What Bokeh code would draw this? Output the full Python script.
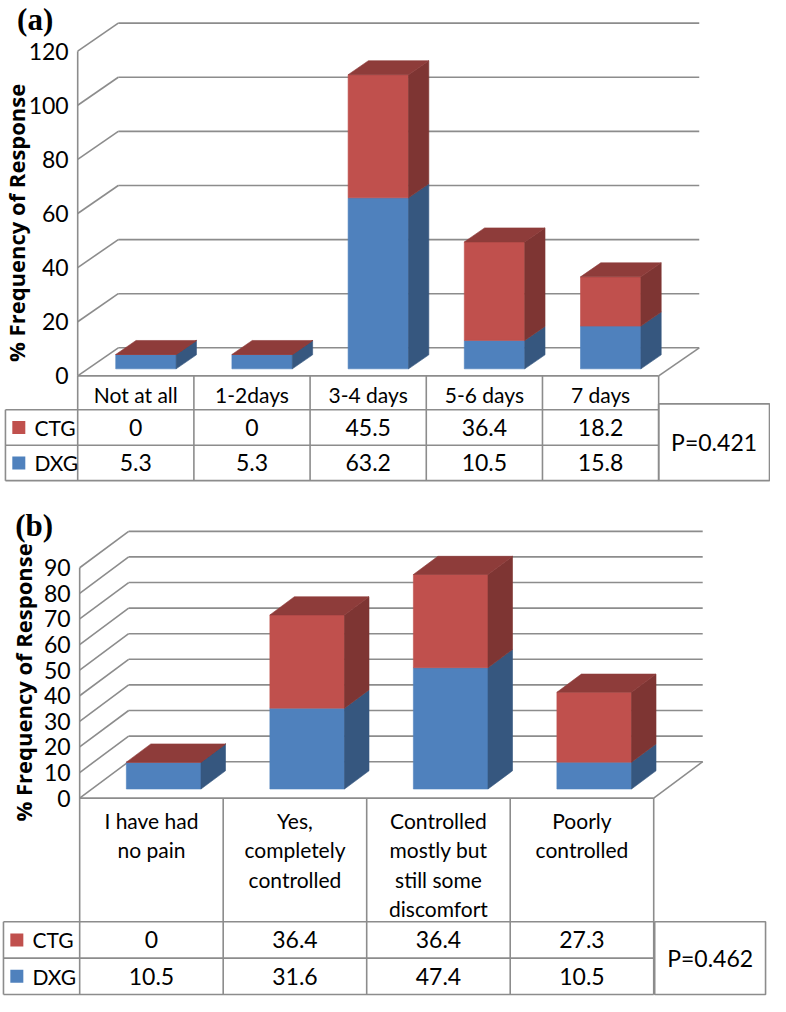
import math
from bokeh.plotting import figure
from bokeh.layouts import column
from bokeh.core.properties import value
from bokeh.embed import file_html
from bokeh.resources import INLINE

# ---------------- data ----------------
series_names = ["CTG", "DXG"]

a_categories = ["Not at all", "1-2days", "3-4 days", "5-6 days", "7 days"]
a_ctg = [0, 0, 45.5, 36.4, 18.2]
a_dxg = [5.3, 5.3, 63.2, 10.5, 15.8]
a_ticks = [0, 20, 40, 60, 80, 100, 120]
a_tick_labels = ["0", "20", "40", "60", "80", "100", "120"]
a_pvalue = "P=0.421"

b_categories = ["I have had\nno pain", "Yes,\ncompletely\ncontrolled",
                "Controlled\nmostly but\nstill some\ndiscomfort", "Poorly\ncontrolled"]
b_ctg = [0, 36.4, 36.4, 27.3]
b_dxg = [10.5, 31.6, 47.4, 10.5]
b_ticks = [0, 10, 20, 30, 40, 50, 60, 70, 80, 90]
b_tick_labels = ["0", "10", "20", "30", "40", "50", "60", "70", "80", "90"]
b_pvalue = "P=0.462"

y_title = "% Frequency of Response"

# ---------------- style ----------------
RED_FRONT = "#C0504D"
RED_SIDE = "#7E3533"
RED_TOP = "#8E3C3A"
BLUE_FRONT = "#4F81BD"
BLUE_SIDE = "#36577F"
GRID = "#8C8C8C"
FONT = "Lato"
FS_WORD = "21px"
FS_NUM = "23px"


def make_panel(cats, ctg, dxg, ticks, tick_labels, pval, letter, cfg, height):
    X0, CW, Y0, KY = cfg["X0"], cfg["CW"], cfg["Y0"], cfg["KY"]
    fx = lambda px: (px - X0) / CW
    fy = lambda py: (Y0 - py) / KY
    N = len(cats)
    ddx = cfg["DX"] / CW
    ddy = cfg["DY"] / KY

    p = figure(width=770, height=height,
               x_range=(fx(8), fx(786)), y_range=(fy(cfg["bot"]), fy(cfg["top"])),
               output_backend="svg", toolbar_location=None,
               x_axis_location=None, y_axis_location=None, min_border=0)
    p.outline_line_color = None
    p.grid.visible = False
    p.background_fill_color = "white"

    nt = len(ticks)
    # back wall gridlines
    p.segment(x0=[ddx] * nt, y0=[t + ddy for t in ticks], x1=[N + ddx] * nt,
              y1=[t + ddy for t in ticks], line_color=GRID, line_width=1.6)
    # side wall diagonals
    p.segment(x0=[0] * nt, y0=ticks, x1=[ddx] * nt, y1=[t + ddy for t in ticks],
              line_color=GRID, line_width=1.6)
    # front axis + floor
    p.segment(x0=[0, 0, N], y0=[0, 0, 0], x1=[0, N, N + ddx], y1=[ticks[-1], 0, ddy],
              line_color=GRID, line_width=1.6)

    # bars
    f0, h, gap = 0.25, 0.5, 0.24
    xl = [i + gap + f0 * ddx for i in range(N)]
    xr = [i + 1 - gap + f0 * ddx for i in range(N)]
    yb = f0 * ddy
    dx2, dy2 = h * ddx, h * ddy

    def side(x, y0, y1):
        return [x, x + dx2, x + dx2, x], [y0, y0 + dy2, y1 + dy2, y1]

    bs = [side(xr[i], yb, yb + dxg[i]) for i in range(N)]
    rs = [side(xr[i], yb + dxg[i], yb + dxg[i] + ctg[i]) for i in range(N)]
    tops = []
    for i in range(N):
        t = yb + dxg[i] + ctg[i]
        tops.append(([xl[i], xr[i], xr[i] + dx2, xl[i] + dx2], [t, t, t + dy2, t + dy2]))

    p.quad(left=xl, right=xr, bottom=[yb] * N, top=[yb + d for d in dxg],
           fill_color=BLUE_FRONT, line_color=BLUE_FRONT, line_width=0.6)
    p.patches(xs=[s[0] for s in bs], ys=[s[1] for s in bs],
              fill_color=BLUE_SIDE, line_color=BLUE_SIDE, line_width=0.6)
    p.quad(left=xl, right=xr, bottom=[yb + d for d in dxg],
           top=[yb + d + c for d, c in zip(dxg, ctg)],
           fill_color=RED_FRONT, line_color=RED_FRONT, line_width=0.6)
    p.patches(xs=[s[0] for s in rs], ys=[s[1] for s in rs],
              fill_color=RED_SIDE, line_color=RED_SIDE, line_width=0.6)
    p.patches(xs=[s[0] for s in tops], ys=[s[1] for s in tops],
              fill_color=RED_TOP, line_color=RED_TOP, line_width=0.6)

    # table
    r0, r1, r2 = [fy(v) for v in cfg["rows"]]
    lx = fx(cfg["leg_left"])
    p.segment(x0=[lx, lx, lx], y0=[r0, r1, r2], x1=[N, N, N], y1=[r0, r1, r2],
              line_color=GRID, line_width=1.6)
    p.segment(x0=[lx] + list(range(N + 1)), y0=[r0] + [0] * (N + 1),
              x1=[lx] + list(range(N + 1)), y1=[r2] * (N + 2),
              line_color=GRID, line_width=1.6)
    pl, pr, pt = fx(cfg["pbox"][0]), fx(cfg["pbox"][1]), fy(cfg["pbox"][2])
    p.quad(left=[pl], right=[pr], top=[pt], bottom=[r2], fill_color=None,
           line_color=GRID, line_width=1.6)

    word = dict(text_font=value(FONT), text_font_size=value(FS_WORD), text_color="black")
    num = dict(text_font=value(FONT), text_font_size=value(FS_NUM), text_color="black")
    # header labels
    hx, hy, ht = [], [], []
    for i, c in enumerate(cats):
        for k, line in enumerate(c.split("\n")):
            hx.append(i + 0.5)
            hy.append(fy(cfg["head_y"] + k * cfg["line_h"]))
            ht.append(line)
    p.text(x=hx, y=hy, text=ht, text_align="center", text_baseline="middle", **word)

    def fmt(v):
        return str(int(v)) if float(v).is_integer() else str(v)

    cy = (r0 + r1) / 2
    dy_ = (r1 + r2) / 2
    p.text(x=[i + 0.5 for i in range(N)], y=[cy] * N, text=[fmt(v) for v in ctg],
           text_align="center", text_baseline="middle", **num)
    p.text(x=[i + 0.5 for i in range(N)], y=[dy_] * N, text=[fmt(v) for v in dxg],
           text_align="center", text_baseline="middle", **num)
    # legend keys
    kx = fx(cfg["leg_left"] + 13.5)
    p.scatter(x=[kx, kx], y=[cy, dy_], marker="square", size=13,
              fill_color=[RED_FRONT, BLUE_FRONT], line_color=None)
    p.text(x=[lx, lx], y=[cy, dy_], text=series_names, x_offset=29,
           text_align="left", text_baseline="middle", **word)
    # p value
    p.text(x=[(pl + pr) / 2], y=[(pt + r2) / 2], text=[pval],
           text_align="center", text_baseline="middle", **num)

    # tick labels
    p.text(x=[0] * nt, y=ticks, text=tick_labels, x_offset=-9,
           text_align="right", text_baseline="middle", **num)
    # axis title
    p.text(x=[fx(cfg["title_x"])], y=[fy(cfg["title_y"])], text=[y_title],
           angle=math.pi / 2, text_align="center", text_baseline="middle",
           text_font=value("Open Sans"), text_font_style="bold",
           text_font_size=value("22px"), text_color="black")
    # panel letter
    p.text(x=[fx(cfg["letter_xy"][0])], y=[fy(cfg["letter_xy"][1])], text=[letter],
           text_align="center", text_baseline="middle",
           text_font=value("Liberation Serif"), text_font_style="bold",
           text_font_size=value("31px"), text_color="black")
    return p


cfg_a = dict(X0=86, CW=117.4, Y0=381.5, KY=2.75, DX=41, DY=28.5, top=0, bot=496,
             rows=[416, 452, 488], leg_left=13, pbox=(673, 785, 410),
             head_y=400, line_h=30, title_x=24, title_y=226, letter_xy=(43, 19))
cfg_b = dict(X0=88, CW=145, Y0=810.5, KY=2.6, DX=49.5, DY=37, top=496, bot=1012,
             rows=[936, 973, 1010], leg_left=11, pbox=(669, 781, 936),
             head_y=833, line_h=30, title_x=31, title_y=693, letter_xy=(42, 534))

pa = make_panel(a_categories, a_ctg, a_dxg, a_ticks, a_tick_labels, a_pvalue, "(a)", cfg_a, 488)
pb = make_panel(b_categories, b_ctg, b_dxg, b_ticks, b_tick_labels, b_pvalue, "(b)", cfg_b, 508)

layout = column(pa, pb, spacing=0)
open("out.html", "w").write(file_html(layout, INLINE))
